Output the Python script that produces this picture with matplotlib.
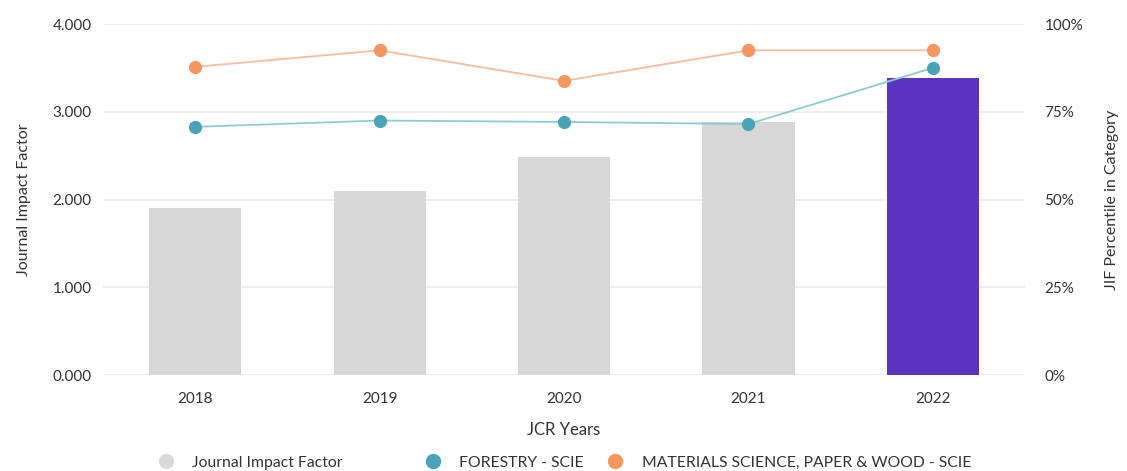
import matplotlib
matplotlib.use("Agg")
import matplotlib.pyplot as plt
from matplotlib.lines import Line2D
from matplotlib.ticker import FuncFormatter

plt.rcParams['font.family'] = ['Lato', 'DejaVu Sans']

years = ["2018", "2019", "2020", "2021", "2022"]
impact_factor = [1.90, 2.10, 2.49, 2.88, 3.39]
forestry_pct = [70.7, 72.5, 72.1, 71.5, 87.5]
materials_pct = [87.8, 92.5, 83.8, 92.5, 92.5]

left_ticks = [0, 1, 2, 3, 4]
right_ticks = [0, 25, 50, 75, 100]

text_col = "#333333"
bar_gray = "#d7d7d7"
bar_purple = "#5c33be"
teal_marker = "#4aa3b7"
teal_line = "#8ccad7"
orange_marker = "#f5965f"
orange_line = "#f8bd9c"
grid_col = "#ebebeb"

fig = plt.figure(figsize=(11.27, 4.71), dpi=100)
ax = fig.add_axes([0.0914, 0.2038, 0.8181, 0.7452])
x = list(range(len(years)))
colors = [bar_gray] * (len(years) - 1) + [bar_purple]
ax.bar(x, impact_factor, width=0.5, color=colors, zorder=2)
ax.set_ylim(0, 4)
ax.set_xlim(-0.5, len(years) - 0.5)
ax.set_yticks(left_ticks)
ax.yaxis.set_major_formatter(FuncFormatter(lambda v, p: f"{v:.3f}"))
ax.set_xticks(x)
ax.set_xticklabels(years)
ax.grid(axis='y', color=grid_col, linewidth=1.2, zorder=0)
ax.set_axisbelow(True)
for s in ax.spines.values():
    s.set_visible(False)
ax.tick_params(length=0, labelsize=11, colors=text_col, pad=8)
ax.tick_params(axis='x', pad=12)
ax.set_ylabel("Journal Impact Factor", fontsize=11.5, color=text_col, labelpad=16)
ax.set_xlabel("JCR Years", fontsize=12, color=text_col, labelpad=12)

ax2 = ax.twinx()
ax2.set_ylim(0, 100)
ax2.set_yticks(right_ticks)
ax2.yaxis.set_major_formatter(FuncFormatter(lambda v, p: f"{int(v)}%"))
for s in ax2.spines.values():
    s.set_visible(False)
ax2.tick_params(length=0, labelsize=11, colors=text_col, pad=14)
ax2.set_ylabel("JIF Percentile in Category", fontsize=11.5, color=text_col, labelpad=16)

ax2.plot(x, forestry_pct, color=teal_line, linewidth=1.3, zorder=3)
ax2.plot(x, forestry_pct, linestyle='none', marker='o', markersize=8.5,
         color=teal_marker, zorder=4)
ax2.plot(x, materials_pct, color=orange_line, linewidth=1.3, zorder=3)
ax2.plot(x, materials_pct, linestyle='none', marker='o', markersize=8.5,
         color=orange_marker, zorder=4)

# Legend entries placed one by one along the bottom
legend_items = [
    ("Journal Impact Factor", "#d9d9d9", 0.140),
    ("FORESTRY - SCIE", teal_marker, 0.377),
    ("MATERIALS SCIENCE, PAPER & WOOD - SCIE", orange_marker, 0.539),
]
for label, col, xpos in legend_items:
    h = Line2D([], [], linestyle='none', marker='o', markersize=10, color=col)
    leg = fig.legend([h], [label], loc='center left', frameon=False,
                     bbox_to_anchor=(xpos, 0.017), fontsize=11.3,
                     handletextpad=1.2, handlelength=1.0,
                     borderpad=0, borderaxespad=0)
    for t in leg.get_texts():
        t.set_color(text_col)

fig.savefig("out.png", dpi=100, facecolor="white")
